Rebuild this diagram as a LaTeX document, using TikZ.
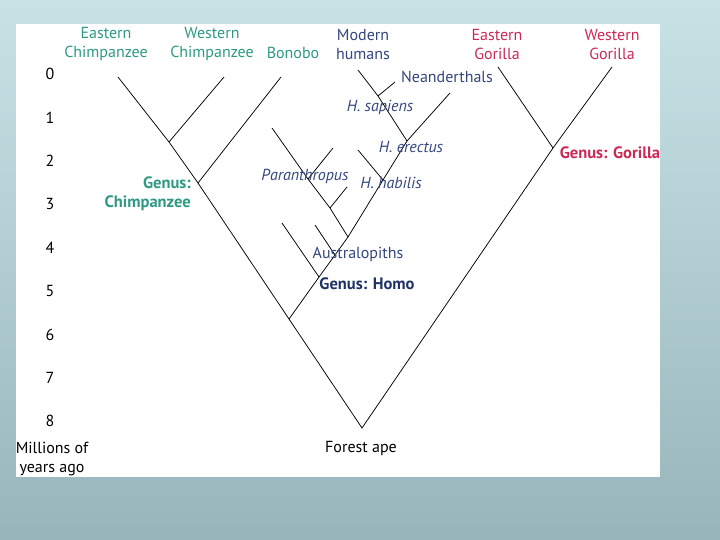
\documentclass[tikz,border=0pt]{standalone}
\usepackage{fontspec}
\setmainfont{PT Sans}
\definecolor{bgtop}{HTML}{C8E3E6}
\definecolor{bgbot}{HTML}{98B5BB}
\definecolor{chimpcol}{HTML}{2E9A84}
\definecolor{homocol}{HTML}{34477E}
\definecolor{homodark}{HTML}{1F3366}
\definecolor{gorillacol}{HTML}{CC2A55}

\begin{document}
\begin{tikzpicture}[x=1pt,y=-1pt,
    branch/.style={line width=0.75pt},
    txt/.style={inner sep=0pt, font=\fontsize{16}{19}\selectfont, align=center},
    chimptxt/.style={txt, text=chimpcol},
    homotxt/.style={txt, text=homocol},
    gorillatxt/.style={txt, text=gorillacol},
    species/.style={homotxt, font=\fontsize{16}{19}\selectfont\itshape},
    genus/.style={txt, font=\fontsize{16.5}{19}\selectfont\bfseries}]
                        \fill [top color=bgtop, bottom color=bgbot] (0,0) rectangle (720,540);
                        \fill [white] (16,24) rectangle (660,477);
                        \foreach \t in {0,...,8}
                        {
                            \node [txt] (t\t) at (50,74+43.4*\t) {\t};
                        }
                        \node [txt] (myago) at (52,459) {Millions of\\years ago};
                        \node [txt] (forest) at (361,448) {Forest ape};
                        \coordinate (root) at (362,428);
                        \coordinate (hc) at (289,319);
                        \coordinate (cg) at (198,183);
                        \coordinate (wc) at (169,142);
                        \coordinate (gg) at (553,148);
                        \coordinate (gh) at (319,277);
                        \coordinate (au) at (335,255);
                        \coordinate (pj) at (348,237);
                        \coordinate (pa2) at (330,208);
                        \coordinate (pa1) at (308,179);
                        \coordinate (hb) at (383,180);
                        \coordinate (he) at (407,141);
                        \coordinate (hs) at (378,96);
                        \coordinate (echimptip) at (118,77);
                        \coordinate (wchimptip) at (224,77);
                        \coordinate (bonobotip) at (281,77);
                        \coordinate (moderntip) at (358,70);
                        \coordinate (neandtip) at (395,82);
                        \coordinate (erectustip) at (450,93);
                        \coordinate (habilistip) at (358,150);
                        \coordinate (paratip1) at (272,128);
                        \coordinate (paratip2) at (333,148);
                        \coordinate (paratip3) at (347,187);
                        \coordinate (austip1) at (315,225);
                        \coordinate (austip2) at (282,223);
                        \coordinate (egorillatip) at (498,67);
                        \coordinate (wgorillatip) at (612,67);
                        \draw [branch] (echimptip) -- (wc) -- (cg) -- (hc) -- (root) -- (gg) -- (wgorillatip);
                        \draw [branch] (wc) -- (wchimptip);
                        \draw [branch] (cg) -- (bonobotip);
                        \draw [branch] (gg) -- (egorillatip);
                        \draw [branch] (hc) -- (gh) -- (au) -- (pj) -- (hb) -- (he) -- (erectustip);
                        \draw [branch] (he) -- (hs) -- (moderntip);
                        \draw [branch] (hs) -- (neandtip);
                        \draw [branch] (hb) -- (habilistip);
                        \draw [branch] (pj) -- (pa2) -- (pa1) -- (paratip1);
                        \draw [branch] (pa1) -- (paratip2);
                        \draw [branch] (pa2) -- (paratip3);
                        \draw [branch] (au) -- (austip1);
                        \draw [branch] (gh) -- (austip2);
                        \node [chimptxt] (echimp) at (106,44) {Eastern\\Chimpanzee};
                        \node [chimptxt] (wchimp) at (212,44) {Western\\Chimpanzee};
                        \node [chimptxt] (bonobo) at (293,53) {Bonobo};
                        \node [homotxt] (modern) at (363,44) {Modern\\humans};
                        \node [gorillatxt] (egorilla) at (497,44) {Eastern\\Gorilla};
                        \node [gorillatxt] (wgorilla) at (612,44) {Western\\Gorilla};
                        \node [homotxt] (neand) at (447,77) {Neanderthals};
                        \node [species] (sapiens) at (380,107) {H. sapiens};
                        \node [species] (erectus) at (411,147) {H. erectus};
                        \node [species] (para) at (305,176) {Paranthropus};
                        \node [species] (habilis) at (391,183) {H. habilis};
                        \node [homotxt] (austr) at (358,254) {Australopiths};
                        \node [genus, text=homodark] (ghomo) at (367,284) {Genus: Homo};
                        \node [genus, text=gorillacol] (ggorilla) at (610,153) {Genus: Gorilla};
                        \node [genus, text=chimpcol, align=right, anchor=east] (gchimp) at (191,193.5) {Genus:\\Chimpanzee};
                    \end{tikzpicture}
\end{document}
